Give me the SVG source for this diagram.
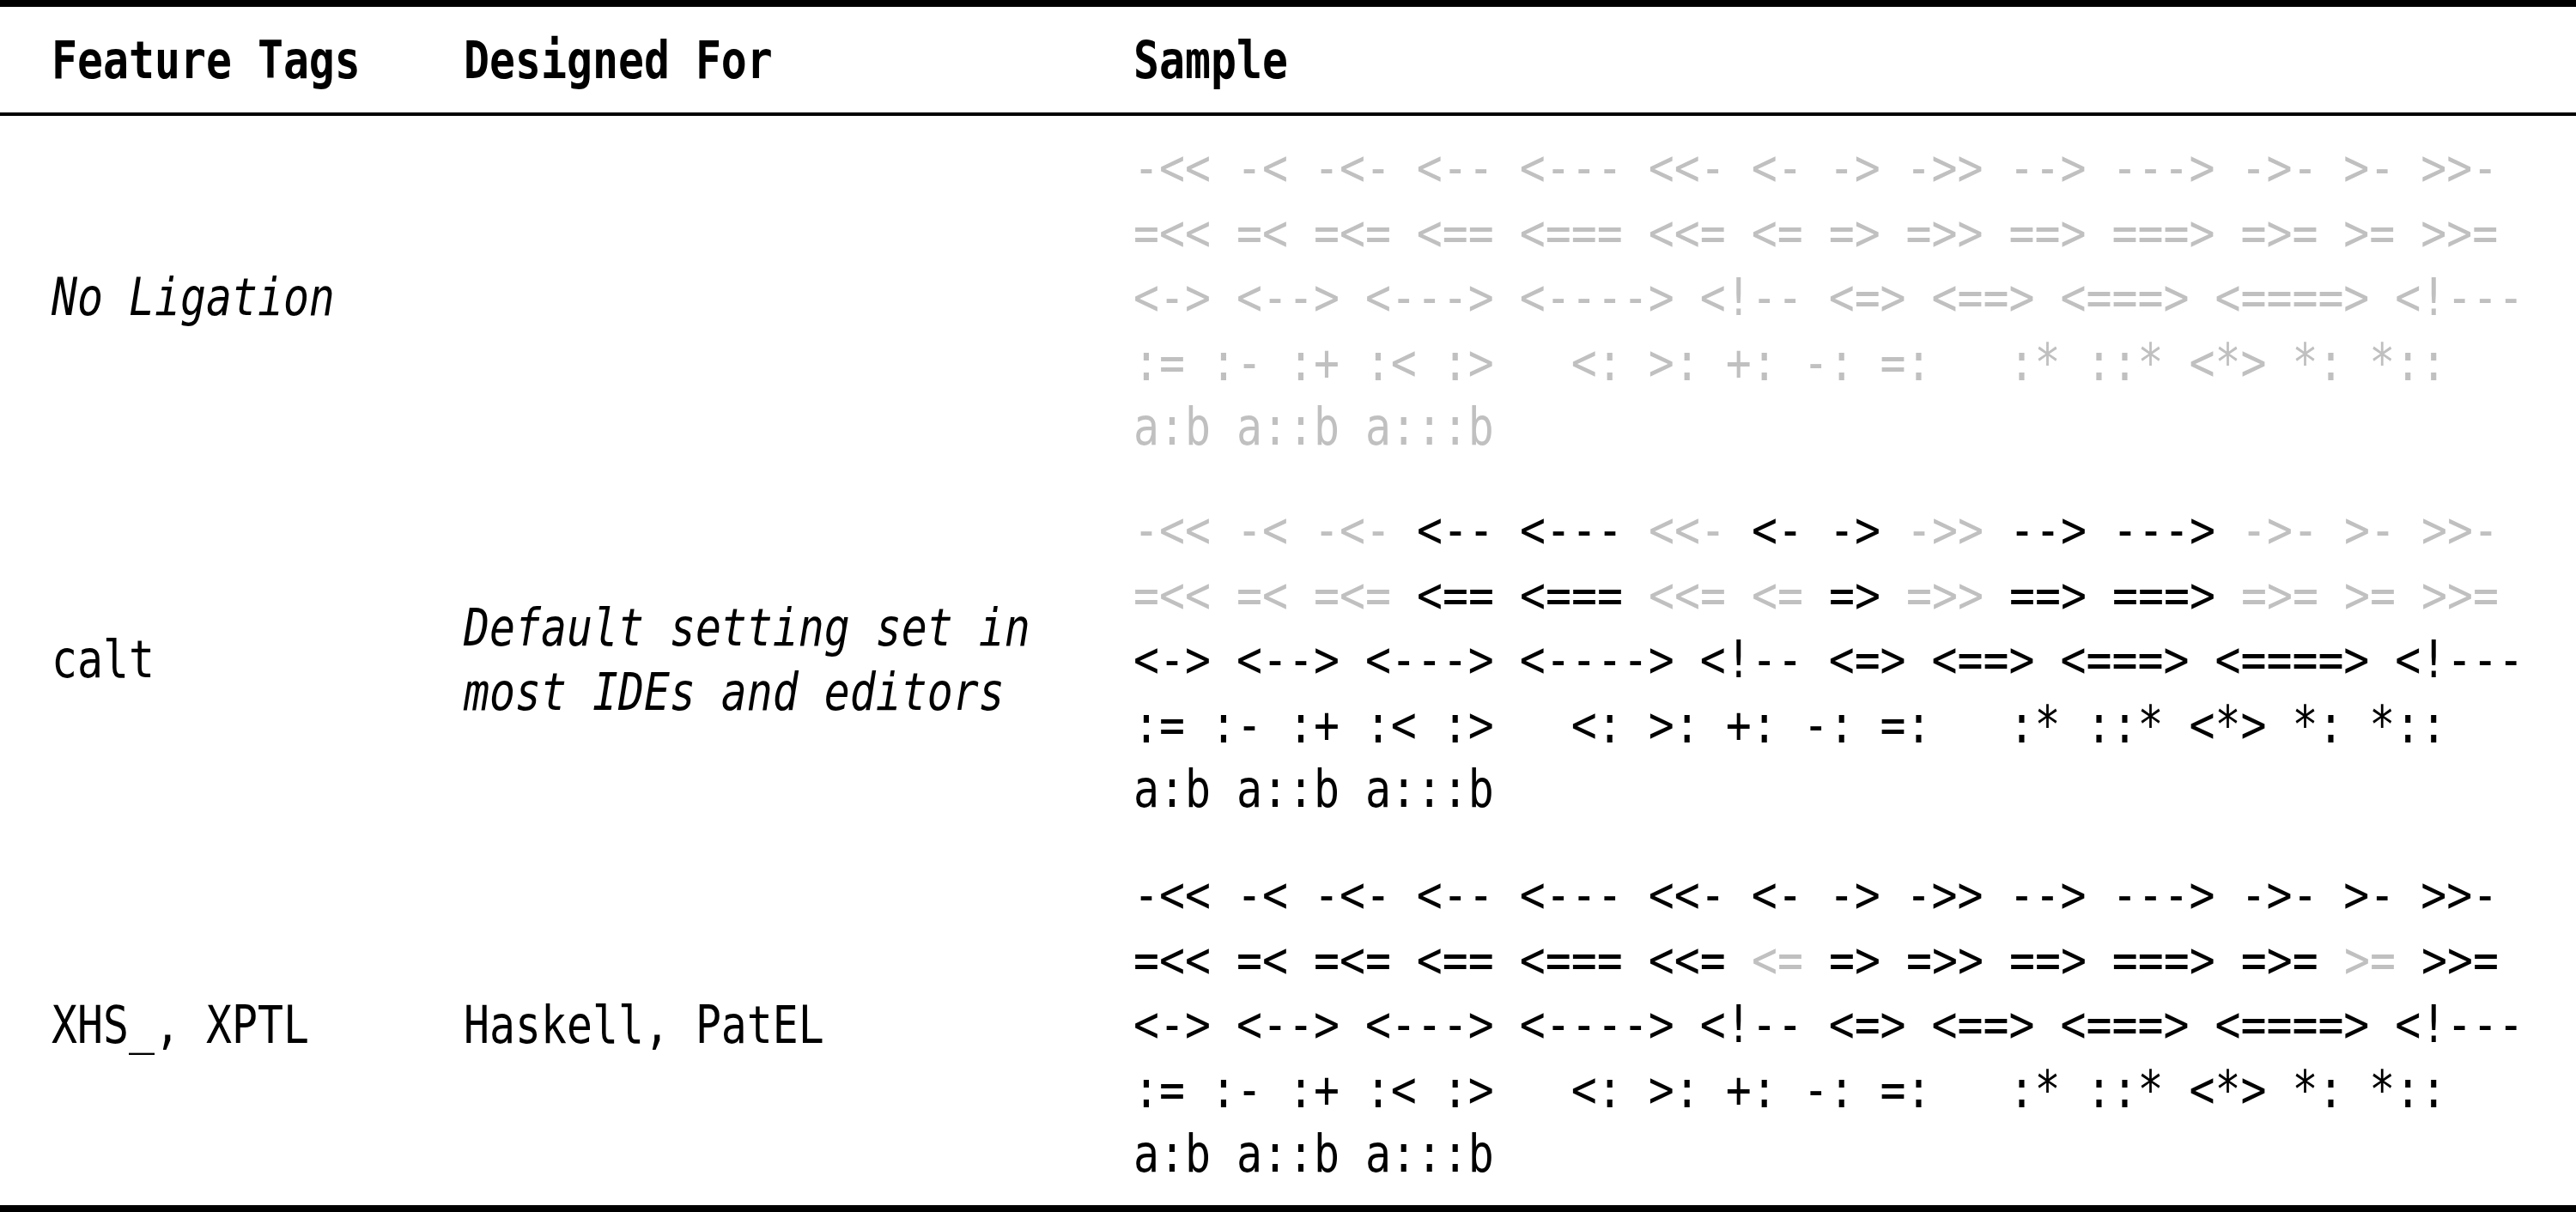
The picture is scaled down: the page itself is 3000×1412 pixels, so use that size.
<svg xmlns="http://www.w3.org/2000/svg" width="3000" height="1412" viewBox="0 0 3000 1412">
<style>
text{font-family:"DejaVu Sans Mono","Liberation Mono",monospace;font-size:60px;fill:#000;white-space:pre}
.b{font-weight:bold}
.i{font-style:italic}
.g{fill:#c0c0c0}
.k{fill:#000}
.rule{fill:#000}
</style>
<rect width="3000" height="1412" fill="#fff"/>
<g id="rules">
<rect class="rule" x="0" y="0" width="3000" height="8"/>
<rect class="rule" x="0" y="131" width="3000" height="4"/>
<rect class="rule" x="0" y="1404" width="3000" height="8"/>
</g>
<g id="header">
<text class="b" transform="translate(60 91) scale(0.8305 1)" xml:space="preserve">Feature Tags</text>
<text class="b" transform="translate(540 91) scale(0.8305 1)" xml:space="preserve">Designed For</text>
<text class="b" transform="translate(1320 91) scale(0.8305 1)" xml:space="preserve">Sample</text>
</g>
<g id="row-no-ligation">
<text class="i" transform="translate(60 367) scale(0.8305 1)" xml:space="preserve">No Ligation</text>
<g class="sample">
<text class="g" transform="translate(1320 216) scale(0.8305 1)" xml:space="preserve">-&lt;&lt; -&lt; -&lt;- &lt;-- &lt;--- &lt;&lt;- &lt;- -&gt; -&gt;&gt; --&gt; ---&gt; -&gt;- &gt;- &gt;&gt;-</text>
<text class="g" transform="translate(1320 291.5) scale(0.8305 1)" xml:space="preserve">=&lt;&lt; =&lt; =&lt;= &lt;== &lt;=== &lt;&lt;= &lt;= =&gt; =&gt;&gt; ==&gt; ===&gt; =&gt;= &gt;= &gt;&gt;=</text>
<text class="g" transform="translate(1320 367) scale(0.8305 1)" xml:space="preserve">&lt;-&gt; &lt;--&gt; &lt;---&gt; &lt;----&gt; &lt;!-- &lt;=&gt; &lt;==&gt; &lt;===&gt; &lt;====&gt; &lt;!---</text>
<text class="g" transform="translate(1320 442.5) scale(0.8305 1)" xml:space="preserve">:= :- :+ :&lt; :&gt;   &lt;: &gt;: +: -: =:   :* ::* &lt;*&gt; *: *::</text>
<text class="g" transform="translate(1320 518) scale(0.8305 1)" xml:space="preserve">a:b a::b a:::b</text>
</g>
</g>
<g id="row-calt">
<text transform="translate(60 789) scale(0.8305 1)" xml:space="preserve">calt</text>
<text class="i" transform="translate(540 752) scale(0.8305 1)" xml:space="preserve">Default setting set in</text>
<text class="i" transform="translate(540 827) scale(0.8305 1)" xml:space="preserve">most IDEs and editors</text>
<g class="sample">
<text class="g" transform="translate(1320 638) scale(0.8305 1)" xml:space="preserve">-&lt;&lt; -&lt; -&lt;-</text>
<text class="k" transform="translate(1650 638) scale(0.8305 1)" xml:space="preserve">&lt;-- &lt;---</text>
<text class="g" transform="translate(1920 638) scale(0.8305 1)" xml:space="preserve">&lt;&lt;-</text>
<text class="k" transform="translate(2040 638) scale(0.8305 1)" xml:space="preserve">&lt;- -&gt;</text>
<text class="g" transform="translate(2220 638) scale(0.8305 1)" xml:space="preserve">-&gt;&gt;</text>
<text class="k" transform="translate(2340 638) scale(0.8305 1)" xml:space="preserve">--&gt; ---&gt;</text>
<text class="g" transform="translate(2610 638) scale(0.8305 1)" xml:space="preserve">-&gt;- &gt;- &gt;&gt;-</text>
<text class="g" transform="translate(1320 713.5) scale(0.8305 1)" xml:space="preserve">=&lt;&lt; =&lt; =&lt;=</text>
<text class="k" transform="translate(1650 713.5) scale(0.8305 1)" xml:space="preserve">&lt;== &lt;===</text>
<text class="g" transform="translate(1920 713.5) scale(0.8305 1)" xml:space="preserve">&lt;&lt;= &lt;=</text>
<text class="k" transform="translate(2130 713.5) scale(0.8305 1)" xml:space="preserve">=&gt;</text>
<text class="g" transform="translate(2220 713.5) scale(0.8305 1)" xml:space="preserve">=&gt;&gt;</text>
<text class="k" transform="translate(2340 713.5) scale(0.8305 1)" xml:space="preserve">==&gt; ===&gt;</text>
<text class="g" transform="translate(2610 713.5) scale(0.8305 1)" xml:space="preserve">=&gt;= &gt;= &gt;&gt;=</text>
<text transform="translate(1320 789) scale(0.8305 1)" xml:space="preserve">&lt;-&gt; &lt;--&gt; &lt;---&gt; &lt;----&gt; &lt;!-- &lt;=&gt; &lt;==&gt; &lt;===&gt; &lt;====&gt; &lt;!---</text>
<text transform="translate(1320 864.5) scale(0.8305 1)" xml:space="preserve">:= :- :+ :&lt; :&gt;   &lt;: &gt;: +: -: =:   :* ::* &lt;*&gt; *: *::</text>
<text transform="translate(1320 940) scale(0.8305 1)" xml:space="preserve">a:b a::b a:::b</text>
</g>
</g>
<g id="row-xhs">
<text transform="translate(60 1215) scale(0.8305 1)" xml:space="preserve">XHS_, XPTL</text>
<text transform="translate(540 1215) scale(0.8305 1)" xml:space="preserve">Haskell, PatEL</text>
<g class="sample">
<text transform="translate(1320 1063) scale(0.8305 1)" xml:space="preserve">-&lt;&lt; -&lt; -&lt;- &lt;-- &lt;--- &lt;&lt;- &lt;- -&gt; -&gt;&gt; --&gt; ---&gt; -&gt;- &gt;- &gt;&gt;-</text>
<text class="k" transform="translate(1320 1138.5) scale(0.8305 1)" xml:space="preserve">=&lt;&lt; =&lt; =&lt;= &lt;== &lt;=== &lt;&lt;=</text>
<text class="g" transform="translate(2040 1138.5) scale(0.8305 1)" xml:space="preserve">&lt;=</text>
<text class="k" transform="translate(2130 1138.5) scale(0.8305 1)" xml:space="preserve">=&gt; =&gt;&gt; ==&gt; ===&gt; =&gt;=</text>
<text class="g" transform="translate(2730 1138.5) scale(0.8305 1)" xml:space="preserve">&gt;=</text>
<text class="k" transform="translate(2820 1138.5) scale(0.8305 1)" xml:space="preserve">&gt;&gt;=</text>
<text transform="translate(1320 1214) scale(0.8305 1)" xml:space="preserve">&lt;-&gt; &lt;--&gt; &lt;---&gt; &lt;----&gt; &lt;!-- &lt;=&gt; &lt;==&gt; &lt;===&gt; &lt;====&gt; &lt;!---</text>
<text transform="translate(1320 1289.5) scale(0.8305 1)" xml:space="preserve">:= :- :+ :&lt; :&gt;   &lt;: &gt;: +: -: =:   :* ::* &lt;*&gt; *: *::</text>
<text transform="translate(1320 1365) scale(0.8305 1)" xml:space="preserve">a:b a::b a:::b</text>
</g>
</g>
</svg>
